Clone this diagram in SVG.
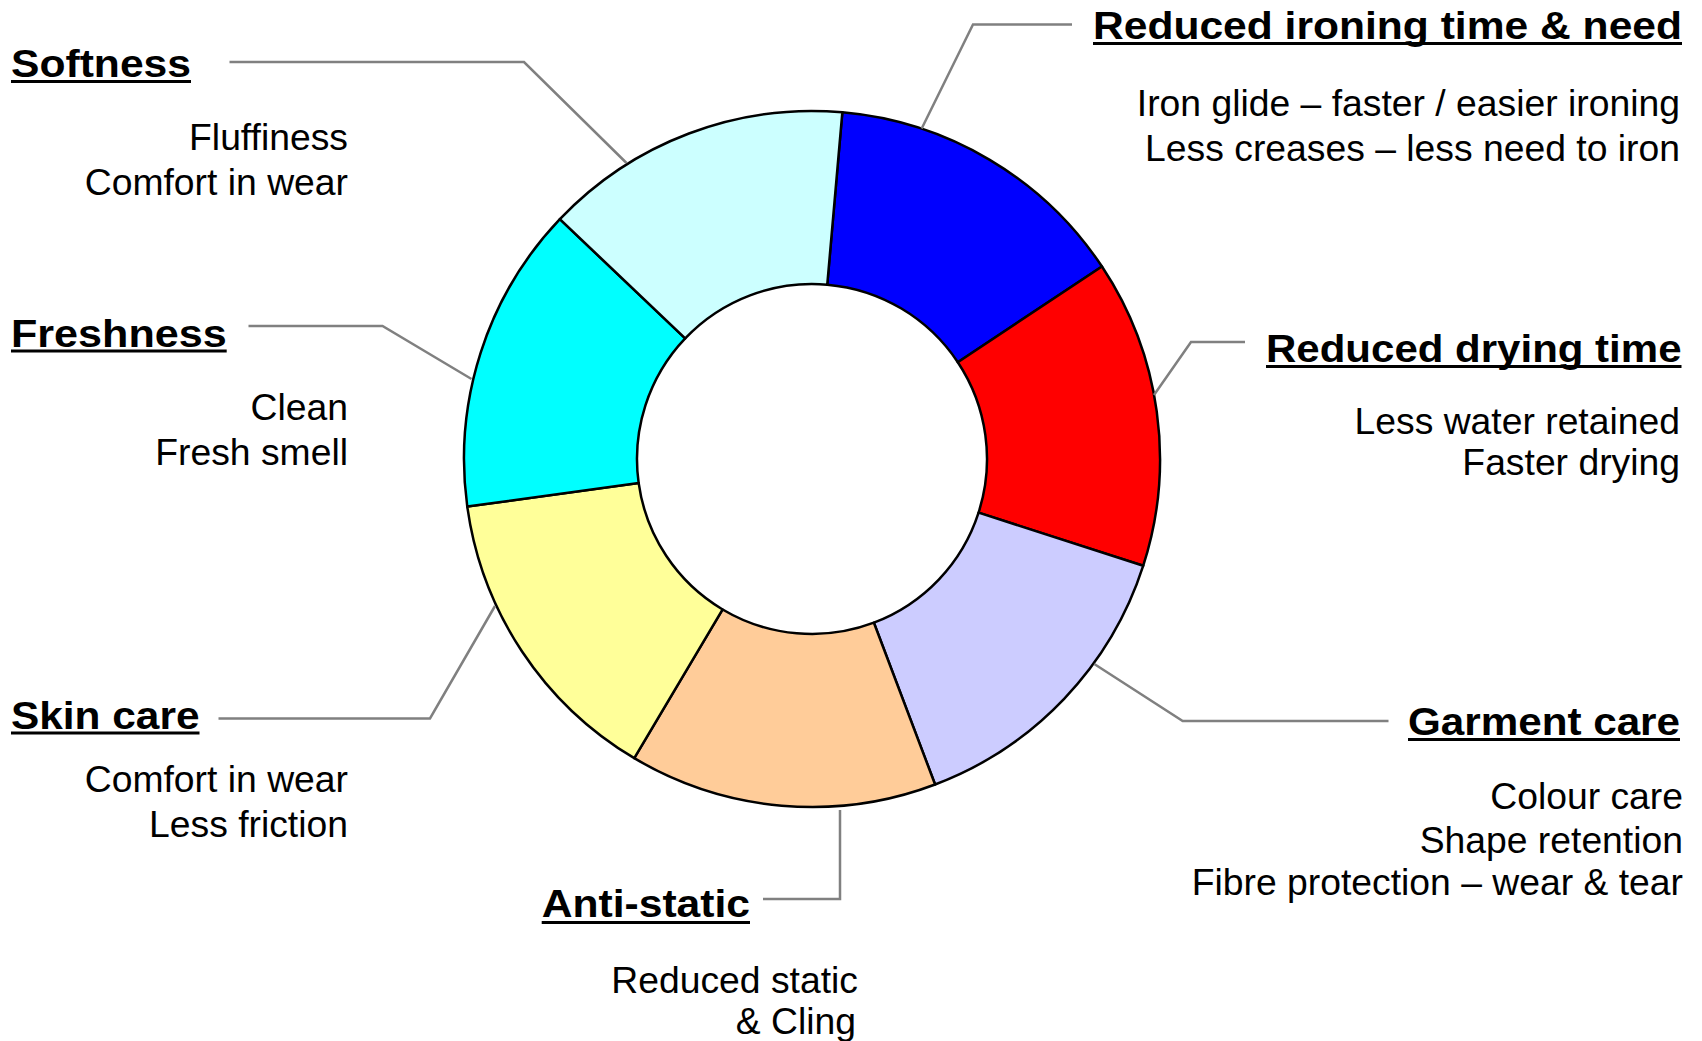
<svg xmlns="http://www.w3.org/2000/svg" width="1702" height="1041" viewBox="0 0 1702 1041">
  <style>
    .seg { stroke: #000000; stroke-width: 2.5; stroke-linejoin: round; }
    .head { font-family: "Liberation Sans", Arial, sans-serif; font-weight: bold; font-size: 39px; fill: #000000; }
    .body { font-family: "Liberation Sans", Arial, sans-serif; font-size: 37.3px; fill: #000000; text-anchor: end; }
    .ul { stroke: #000000; stroke-width: 3; }
    .conn { fill: none; stroke: #808080; stroke-width: 2.5; stroke-linejoin: miter; }
  </style>
  <rect x="0" y="0" width="1702" height="1041" fill="#FFFFFF"/>

  <g id="ironing">
    <path class="seg" fill="#0000FF" d="M842.33,112.33 A348,348 0 0 1 1101.96,266.56 L957.81,362.23 A175,175 0 0 0 827.25,284.67 Z"/>
    <text class="head" x="1093" y="39" textLength="589" lengthAdjust="spacingAndGlyphs">Reduced ironing time &amp; need</text>
    <line class="ul" x1="1093" y1="43.5" x2="1682" y2="43.5"/>
    <text class="body" x="1680" y="116">Iron glide – faster / easier ironing</text>
    <text class="body" x="1680" y="161">Less creases – less need to iron</text>
  </g>

  <g id="drying">
    <path class="seg" fill="#FF0000" d="M1101.96,266.56 A348,348 0 0 1 1143.24,565.71 L978.57,512.66 A175,175 0 0 0 957.81,362.23 Z"/>
    <text class="head" x="1266" y="362" textLength="415.5" lengthAdjust="spacingAndGlyphs">Reduced drying time</text>
    <line class="ul" x1="1266" y1="366.5" x2="1681.5" y2="366.5"/>
    <text class="body" x="1680" y="434">Less water retained</text>
    <text class="body" x="1680" y="475">Faster drying</text>
  </g>

  <g id="garment-care">
    <path class="seg" fill="#CCCCFF" d="M1143.24,565.71 A348,348 0 0 1 935.09,784.5 L873.9,622.69 A175,175 0 0 0 978.57,512.66 Z"/>
    <text class="head" x="1408" y="735" textLength="272" lengthAdjust="spacingAndGlyphs">Garment care</text>
    <line class="ul" x1="1408" y1="739.5" x2="1680" y2="739.5"/>
    <text class="body" x="1683" y="809">Colour care</text>
    <text class="body" x="1683" y="853">Shape retention</text>
    <text class="body" x="1683" y="895">Fibre protection – wear &amp; tear</text>
  </g>

  <g id="anti-static">
    <path class="seg" fill="#FFCC99" d="M935.09,784.5 A348,348 0 0 1 634.26,758.19 L722.62,609.45 A175,175 0 0 0 873.9,622.69 Z"/>
    <text class="head" x="541.7" y="917.3" textLength="208.3" lengthAdjust="spacingAndGlyphs">Anti-static</text>
    <line class="ul" x1="541.7" y1="922.5" x2="750" y2="922.5"/>
    <text class="body" x="858" y="993">Reduced static</text>
    <text class="body" x="856" y="1034">&amp; Cling</text>
  </g>

  <g id="skin-care">
    <path class="seg" fill="#FFFF99" d="M634.26,758.19 A348,348 0 0 1 467.27,506.57 L638.64,482.92 A175,175 0 0 0 722.62,609.45 Z"/>
    <text class="head" x="11" y="728.5" textLength="188.5" lengthAdjust="spacingAndGlyphs">Skin care</text>
    <line class="ul" x1="11" y1="733" x2="199.5" y2="733"/>
    <text class="body" x="348" y="792">Comfort in wear</text>
    <text class="body" x="348" y="837">Less friction</text>
  </g>

  <g id="freshness">
    <path class="seg" fill="#00FFFF" d="M467.27,506.57 A348,348 0 0 1 559.87,219.14 L685.21,338.38 A175,175 0 0 0 638.64,482.92 Z"/>
    <text class="head" x="11" y="346.7" textLength="215.7" lengthAdjust="spacingAndGlyphs">Freshness</text>
    <line class="ul" x1="11" y1="351" x2="226.7" y2="351"/>
    <text class="body" x="348" y="419.5">Clean</text>
    <text class="body" x="348" y="465">Fresh smell</text>
  </g>

  <g id="softness">
    <path class="seg" fill="#CCFFFF" d="M559.87,219.14 A348,348 0 0 1 842.33,112.33 L827.25,284.67 A175,175 0 0 0 685.21,338.38 Z"/>
    <text class="head" x="11" y="77" textLength="180" lengthAdjust="spacingAndGlyphs">Softness</text>
    <line class="ul" x1="11" y1="81.5" x2="191" y2="81.5"/>
    <text class="body" x="348" y="149.5">Fluffiness</text>
    <text class="body" x="348" y="195">Comfort in wear</text>
  </g>

  <g id="connectors">
    <polyline class="conn" points="229.5,62 524,62 626.5,163"/>
    <polyline class="conn" points="1072,24.5 973,24.5 921.7,128.5"/>
    <polyline class="conn" points="248.5,326 382.5,326 471.5,379"/>
    <polyline class="conn" points="1245,342 1191,342 1154,395"/>
    <polyline class="conn" points="218.5,718.5 430,718.5 495,606"/>
    <polyline class="conn" points="1388.5,721 1182.7,721 1094.3,664"/>
    <polyline class="conn" points="763,899 840,899 840,810"/>
  </g>
</svg>
